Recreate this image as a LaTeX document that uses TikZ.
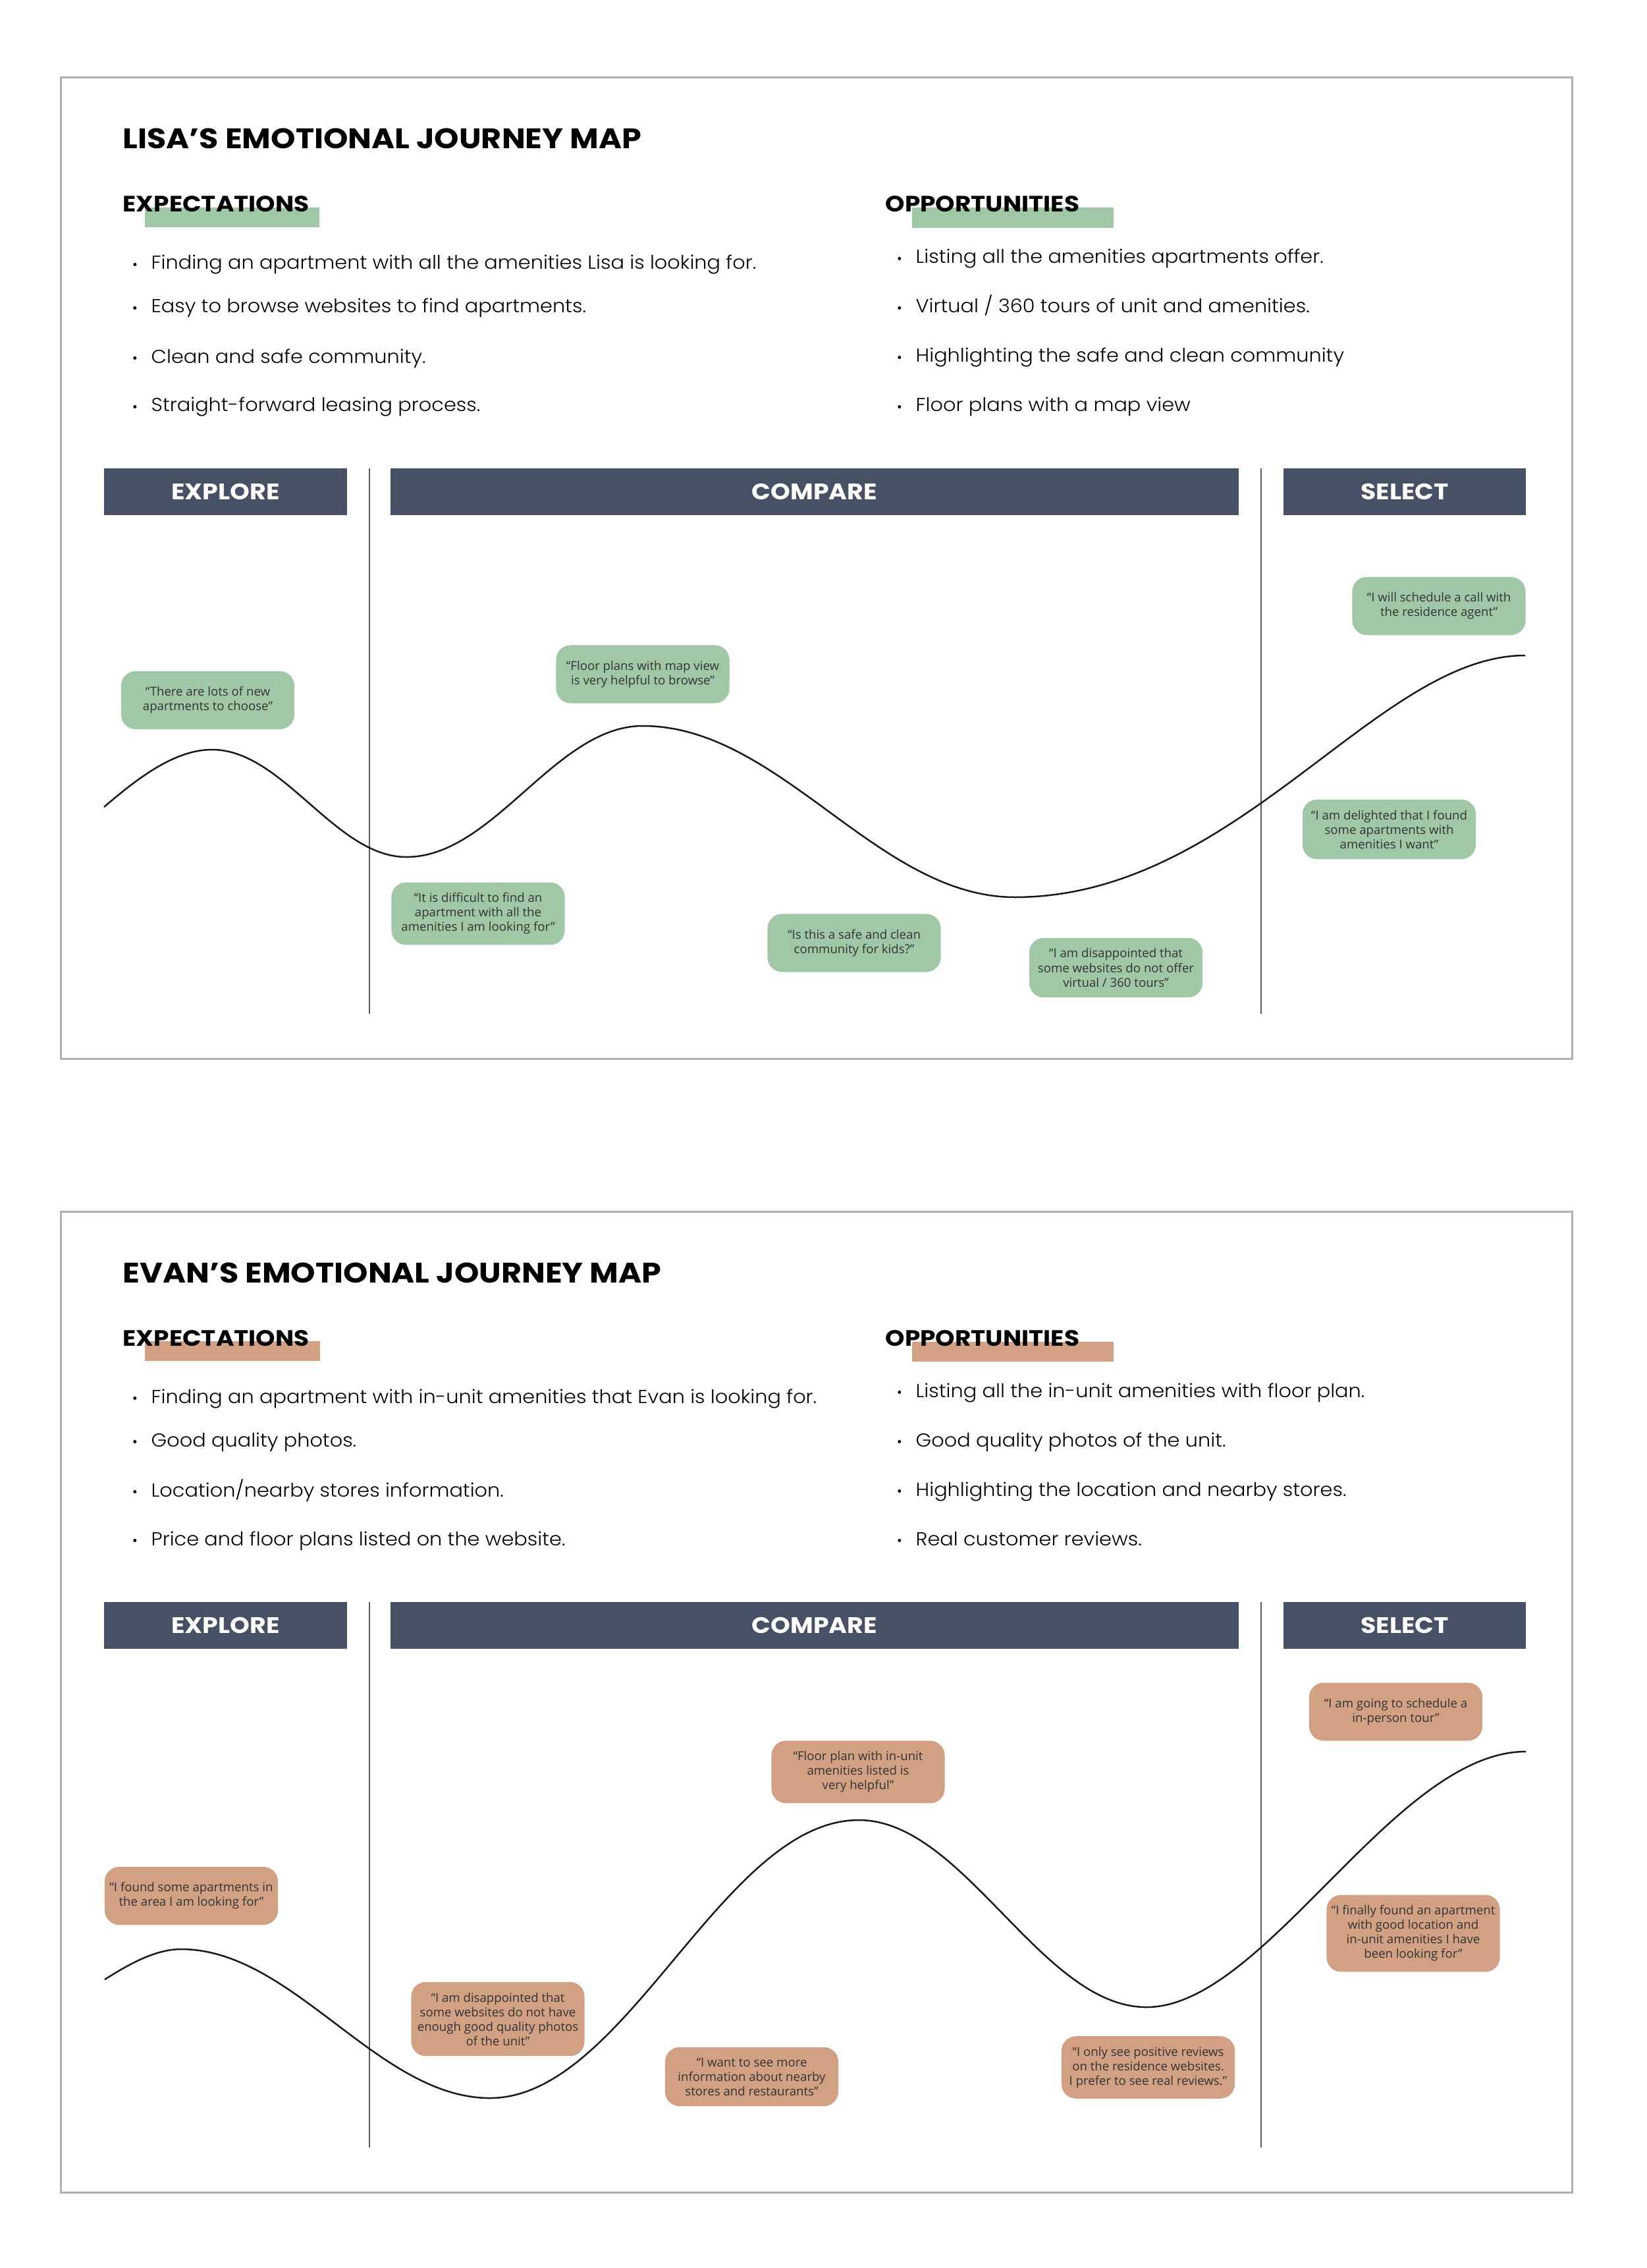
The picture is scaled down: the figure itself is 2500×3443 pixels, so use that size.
\documentclass[tikz,border=0pt]{standalone}
\usepackage{fontspec}
\setmainfont{Poppins}
\newfontfamily\headfont[FakeStretch=1.11]{Poppins}
\newfontfamily\quotefont{Open Sans}
\IfFontExistsTF{Poppins Light}{\newfontfamily\itemfont[FakeStretch=1.065]{Poppins Light}}{\newfontfamily\itemfont[FakeStretch=1.065]{Poppins}}
\definecolor{phaseblue}{HTML}{465166}
\definecolor{lisagreen}{HTML}{A0C8A7}
\definecolor{evanbrown}{HTML}{D2A184}
\definecolor{quotegray}{HTML}{333333}
\definecolor{framegray}{HTML}{AFAFAF}
\definecolor{dividergray}{HTML}{5A5A5A}

\begin{document}
\begin{tikzpicture}[x=0.01cm,y=-0.01cm,
  card/.style={draw=framegray, line width=0.03cm},
  maptitle/.style={anchor=base west, inner sep=0, font=\headfont\fontsize{12.2}{14}\selectfont\bfseries},
  sectionhead/.style={anchor=base west, inner sep=0, font=\headfont\fontsize{9.6}{11}\selectfont\bfseries},
  markbar/.style={inner sep=0, minimum height=0.30cm},
  dot/.style={circle, fill=black, inner sep=0, minimum size=0.05cm},
  item/.style={anchor=base west, inner sep=0, text height=0.22cm, text depth=0.07cm, font=\itemfont\fontsize{8.1}{10}\selectfont, label={[dot, label distance=0.21cm]left:{}}},
  phase/.style={fill=phaseblue, text=white, minimum height=0.71cm, inner sep=0, font=\headfont\fontsize{9.7}{11}\selectfont\bfseries},
  quote/.style={rounded corners=0.22cm, minimum width=2.63cm, minimum height=0.88cm, inner xsep=0, inner ysep=0.16cm, align=center, text=quotegray, font=\quotefont\fontsize{5.3}{6.26}\selectfont},
  divider/.style={draw=dividergray, line width=0.02cm},
  journey/.style={draw=black!90, line width=0.025cm}]
\useasboundingbox (0,0) rectangle (2500,3443);

% Lisa
\draw[card] (92,118) rectangle (2387,1607);
\node[maptitle] (lisa-title) at (186,226) {LISA’S EMOTIONAL JOURNEY MAP};
\node[markbar, fill=lisagreen, minimum width=2.65cm] (lisa-expbar) at (352.5,330) {};
\node[markbar, fill=lisagreen, minimum width=3.06cm] (lisa-oppbar) at (1538,330.5) {};
\node[sectionhead] (lisa-exp) at (186,322) {EXPECTATIONS};
\node[sectionhead] (lisa-opp) at (1344,322) {OPPORTUNITIES};
\node[item] (lisa-e1) at (229,409) {Finding an apartment with all the amenities Lisa is looking for.};
\node[item] (lisa-e2) at (229,475) {Easy to browse websites to find apartments.};
\node[item] (lisa-e3) at (229,551) {Clean and safe community.};
\node[item] (lisa-e4) at (229,625) {Straight-forward leasing process.};
\node[item] (lisa-o1) at (1390,400) {Listing all the amenities apartments offer.};
\node[item] (lisa-o2) at (1390,475) {Virtual / 360 tours of unit and amenities.};
\node[item] (lisa-o3) at (1390,550) {Highlighting the safe and clean community};
\node[item] (lisa-o4) at (1390,625) {Floor plans with a map view};
\node[phase, minimum width=3.69cm] (lisa-explore) at (342.5,746.5) {EXPLORE};
\node[phase, minimum width=12.88cm] (lisa-compare) at (1237,746.5) {COMPARE};
\node[phase, minimum width=3.68cm] (lisa-select) at (2133,746.5) {SELECT};
\draw[divider] (561,711) -- (561,1539);
\draw[divider] (1915,711) -- (1915,1539);
\draw[journey] (158,1225) .. controls (203,1187) and (262,1138) .. (322,1138)
  .. controls (430,1138) and (509,1301) .. (617,1301)
  .. controls (750,1301) and (843,1102) .. (976,1102)
  .. controls (1185,1102) and (1332,1362) .. (1541,1362)
  .. controls (1880,1362) and (2090,995) .. (2316,995);
\node[quote, fill=lisagreen] (lisa-q1) at (315.5,1063) {“There are lots of new\\apartments to choose”};
\node[quote, fill=lisagreen] (lisa-q2) at (976,1023.5) {“Floor plans with map view\\is very helpful to browse”};
\node[quote, fill=lisagreen] (lisa-q3) at (726,1387) {“It is difficult to find an\\apartment with all the\\amenities I am looking for”};
\node[quote, fill=lisagreen] (lisa-q4) at (1297,1431.5) {“Is this a safe and clean\\community for kids?”};
\node[quote, fill=lisagreen] (lisa-q5) at (1694.5,1469) {“I am disappointed that\\some websites do not offer\\virtual / 360 tours”};
\node[quote, fill=lisagreen] (lisa-q6) at (2185,920) {“I will schedule a call with\\the residence agent”};
\node[quote, fill=lisagreen] (lisa-q7) at (2109.5,1259) {“I am delighted that I found\\some apartments with\\amenities I want”};

% Evan
\begin{scope}[shift={(0,1721)}]
\draw[card] (92,118) rectangle (2387,1607);
\node[maptitle] (evan-title) at (186,226) {EVAN’S EMOTIONAL JOURNEY MAP};
\node[markbar, fill=evanbrown, minimum width=2.66cm] (evan-expbar) at (353,330) {};
\node[markbar, fill=evanbrown, minimum width=3.06cm] (evan-oppbar) at (1538,330.5) {};
\node[sectionhead] (evan-exp) at (186,322) {EXPECTATIONS};
\node[sectionhead] (evan-opp) at (1344,322) {OPPORTUNITIES};
\node[item] (evan-e1) at (229,409) {Finding an apartment with in-unit amenities that Evan is looking for.};
\node[item] (evan-e2) at (229,475) {Good quality photos.};
\node[item] (evan-e3) at (229,551) {Location/nearby stores information.};
\node[item] (evan-e4) at (229,625) {Price and floor plans listed on the website.};
\node[item] (evan-o1) at (1390,400) {Listing all the in-unit amenities with floor plan.};
\node[item] (evan-o2) at (1390,475) {Good quality photos of the unit.};
\node[item] (evan-o3) at (1390,550) {Highlighting the location and nearby stores.};
\node[item] (evan-o4) at (1390,625) {Real customer reviews.};
\node[phase, minimum width=3.69cm] (evan-explore) at (342.5,746.5) {EXPLORE};
\node[phase, minimum width=12.88cm] (evan-compare) at (1237,746.5) {COMPARE};
\node[phase, minimum width=3.68cm] (evan-select) at (2133,746.5) {SELECT};
\draw[divider] (561,711) -- (561,1539);
\draw[divider] (1915,711) -- (1915,1539);
\draw[journey] (159,1284) .. controls (194,1262) and (235,1238) .. (275,1238)
  .. controls (445,1238) and (574,1464) .. (744,1464)
  .. controls (951,1464) and (1097,1042) .. (1304,1042)
  .. controls (1464,1042) and (1581,1326) .. (1741,1326)
  .. controls (1921,1326) and (2117,938) .. (2317,938);
\node[quote, fill=evanbrown] (evan-q1) at (290.5,1157) {“I found some apartments in\\the area I am looking for”};
\node[quote, fill=evanbrown] (evan-q2) at (756,1344) {“I am disappointed that\\some websites do not have\\enough good quality photos\\of the unit”};
\node[quote, fill=evanbrown] (evan-q3) at (1141.5,1431.5) {“I want to see more\\information about nearby\\stores and restaurants”};
\node[quote, fill=evanbrown] (evan-q4) at (1303,969) {“Floor plan with in-unit\\amenities listed is\\very helpful”};
\node[quote, fill=evanbrown] (evan-q5) at (1743.5,1417.5) {“I only see positive reviews\\on the residence websites.\\I prefer to see real reviews.”};
\node[quote, fill=evanbrown] (evan-q6) at (2119.5,877.5) {“I am going to schedule a\\in-person tour”};
\node[quote, fill=evanbrown] (evan-q7) at (2146,1214) {“I finally found an apartment\\with good location and\\in-unit amenities I have\\been looking for”};
\end{scope}
\end{tikzpicture}
\end{document}
